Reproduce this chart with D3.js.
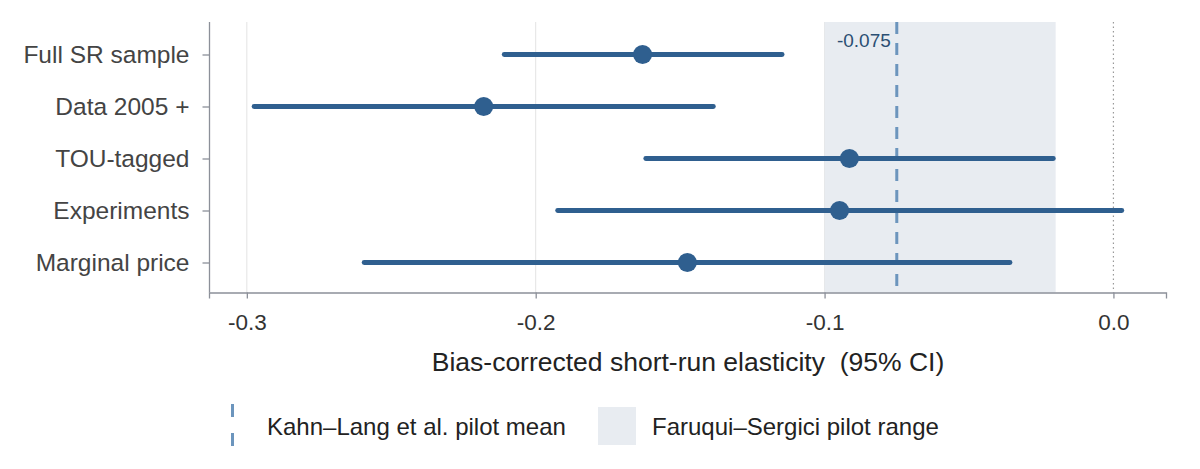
<!DOCTYPE html>
<html lang="en">
    <head>
        <meta charset="utf-8">
        <title>Bias-corrected short-run elasticity</title>
        <script type="text/javascript" src="https://cdn.jsdelivr.net/npm/d3@7/dist/d3.min.js"></script>
        <style type="text/css">
          body { margin: 0; background: #fff; }
          text { font-family: "Liberation Sans", Arial, sans-serif; }
        </style>
    </head>
    <body>
        <script type="text/javascript">

          var labels = ["Full SR sample", "Data 2005 +", "TOU-tagged", "Experiments", "Marginal price"];
          var estimates = [-0.163, -0.218, -0.0914, -0.0948, -0.1475];
          var lower = [-0.2109, -0.2975, -0.1619, -0.1924, -0.2594];
          var upper = [-0.1147, -0.1385, -0.0208, 0.0029, -0.0358];
          var xTicks = [-0.3, -0.2, -0.1, 0.0];
          var xTickLabels = ["-0.3", "-0.2", "-0.1", "0.0"];
          var pilotMean = -0.075;
          var pilotRange = [-0.1, -0.02];

          var w = 1200;
          var h = 469;
          var margin = {top: 22, right: 34, bottom: 176, left: 209};

          var rows = labels.map(function(l, i) {
            return {label: l, est: estimates[i], lo: lower[i], hi: upper[i]};
          });

          var svg = d3.select("body")
                      .append("svg")
                      .attr("width", w)
                      .attr("height", h);

          var xScale = d3.scaleLinear()
                         .domain([-0.3131, 0.0182])
                         .range([margin.left, w - margin.right]);

          var yScale = d3.scalePoint()
                         .domain(labels)
                         .range([54.5, 262.5]);

          var plotBottom = h - margin.bottom - 0.5;
          var col = "#2f5f8f";

          // gridlines
          svg.selectAll("line.grid")
             .data(xTicks.filter(function(t){ return t !== 0; }))
             .enter()
             .append("line")
             .attr("x1", function(d){ return xScale(d); })
             .attr("x2", function(d){ return xScale(d); })
             .attr("y1", margin.top)
             .attr("y2", plotBottom)
             .style("stroke", "#e3e3e3")
             .style("stroke-width", 1);

          // pilot range band
          svg.append("rect")
             .attr("x", xScale(pilotRange[0]))
             .attr("y", margin.top)
             .attr("width", xScale(pilotRange[1]) - xScale(pilotRange[0]))
             .attr("height", plotBottom - margin.top)
             .style("fill", "#e8ecf1");

          // zero line
          svg.append("line")
             .attr("x1", xScale(0)).attr("x2", xScale(0))
             .attr("y1", margin.top).attr("y2", plotBottom)
             .style("stroke", "#999")
             .style("stroke-width", 1.2)
             .style("stroke-dasharray", "1.5,3");

          // pilot mean
          svg.append("line")
             .attr("x1", xScale(pilotMean)).attr("x2", xScale(pilotMean))
             .attr("y1", margin.top).attr("y2", plotBottom)
             .style("stroke", "#6c95bd")
             .style("stroke-width", 3)
             .style("stroke-dasharray", "12,9");

          svg.append("text")
             .attr("x", xScale(pilotMean) - 6)
             .attr("y", 46.5)
             .attr("text-anchor", "end")
             .style("font-size", "19px")
             .style("fill", "#2b4f73")
             .text("-0.075");

          // intervals
          svg.selectAll("line.ci")
             .data(rows)
             .enter()
             .append("line")
             .attr("x1", function(d){ return xScale(d.lo); })
             .attr("x2", function(d){ return xScale(d.hi); })
             .attr("y1", function(d){ return yScale(d.label); })
             .attr("y2", function(d){ return yScale(d.label); })
             .style("stroke", col)
             .style("stroke-width", 4.8)
             .style("stroke-linecap", "round");

          svg.selectAll("circle.pt")
             .data(rows)
             .enter()
             .append("circle")
             .attr("cx", function(d){ return xScale(d.est); })
             .attr("cy", function(d){ return yScale(d.label); })
             .attr("r", 9.5)
             .style("fill", col);

          // axes
          var xAxis = d3.axisBottom(xScale)
                        .tickValues(xTicks)
                        .tickFormat(function(d, i){ return xTickLabels[i]; })
                        .tickSizeOuter(0)
                        .tickSize(6)
                        .tickPadding(16);

          var gx = svg.append("g")
             .attr("transform", "translate(0," + plotBottom + ")")
             .call(xAxis);

          var yAxis = d3.axisLeft(yScale)
                        .tickSizeOuter(0)
                        .tickSize(7)
                        .tickPadding(13);

          var gy = svg.append("g")
             .attr("transform", "translate(" + (margin.left + 0.5) + ",0)")
             .call(yAxis);

          gy.select(".domain").attr("d", "M0," + margin.top + "V" + plotBottom);

          [gx, gy].forEach(function(g) {
            g.select(".domain").style("stroke", "#8c9099").style("stroke-width", 1.3);
            g.selectAll(".tick line").style("stroke", "#8c9099").style("stroke-width", 1.3);
            g.selectAll(".tick text")
             .style("font-family", "'Liberation Sans', Arial, sans-serif")
             .style("font-size", "24.5px")
             .style("fill", "#444");
          });
          gx.selectAll(".tick text").style("font-size", "22.5px").style("fill", "#333");

          svg.append("text")
             .attr("x", 688)
             .attr("y", 371)
             .attr("text-anchor", "middle")
             .style("font-size", "26.5px")
             .style("white-space", "pre")
             .style("fill", "#222")
             .text("Bias-corrected short-run elasticity  (95% CI)");

          // legend
          var lg = svg.append("g");
          lg.append("line")
            .attr("x1", 232.5).attr("x2", 232.5)
            .attr("y1", 404).attr("y2", 448)
            .style("stroke", "#6c95bd")
            .style("stroke-width", 3)
            .style("stroke-dasharray", "13,16");
          lg.append("text")
            .attr("x", 267).attr("y", 435)
            .style("font-size", "24px")
            .style("fill", "#222")
            .text("Kahn\u2013Lang et al. pilot mean");
          lg.append("rect")
            .attr("x", 598).attr("y", 407)
            .attr("width", 38).attr("height", 38)
            .style("fill", "#e8ecf1");
          lg.append("text")
            .attr("x", 652).attr("y", 435)
            .style("font-size", "24px")
            .style("fill", "#222")
            .text("Faruqui\u2013Sergici pilot range");

        </script>
    </body>
</html>
